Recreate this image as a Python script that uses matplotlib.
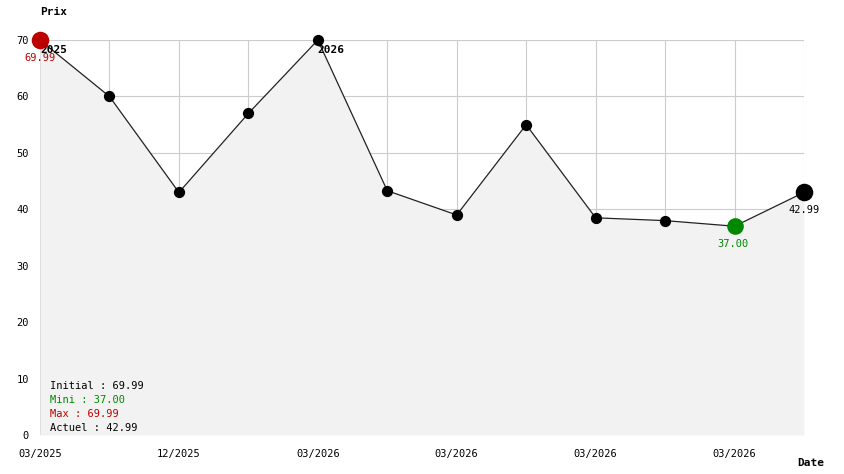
import numpy as np
import matplotlib
matplotlib.use('Agg')
import matplotlib.pyplot as plt

# ── Data ──────────────────────────────────────────────────────────────────────
prices = [69.99, 59.99, 42.99, 56.99, 69.99, 43.29, 38.99, 54.99, 38.49, 37.99, 37.00, 42.99]
tick_labels = ['03/2025', '12/2025', '03/2026', '03/2026', '03/2026', '03/2026']
year_marks = {0: '2025', 4: '2026'}

GRID = '#cccccc'
FILL = '#f2f2f2'
RED = '#bb0000'
GREEN = '#008800'
FONT = 'DejaVu Sans Mono'

plt.rcParams['font.family'] = FONT

fig = plt.figure(figsize=(8.44, 4.74), dpi=100)
ax = fig.add_axes([40 / 844, 39 / 474, 764 / 844, 395 / 474])

x = np.arange(len(prices))
ax.fill_between(x, prices, 0, color=FILL, lw=0, zorder=1)
ax.plot(x, prices, color='#222222', lw=0.9, zorder=3)
ax.scatter(x[1:-1], prices[1:-1], s=50, color='black', zorder=4, clip_on=False)

i_min = int(np.argmin(prices))
i_max = 0
ax.scatter([i_max], [prices[i_max]], s=135, color=RED, zorder=5, clip_on=False)
ax.scatter([i_min], [prices[i_min]], s=120, color=GREEN, zorder=5, clip_on=False)
ax.scatter([x[-1]], [prices[-1]], s=135, color='black', zorder=5, clip_on=False)

ax.annotate(f'{prices[i_max]:.2f}', (i_max, prices[i_max]), xytext=(0, -13),
            textcoords='offset points', ha='center', va='center', color=RED, fontsize=7.5, zorder=6)
ax.annotate(f'{prices[i_min]:.2f}', (i_min, prices[i_min]), xytext=(-1, -13),
            textcoords='offset points', ha='center', va='center', color=GREEN, fontsize=7.5, zorder=6)
ax.annotate(f'{prices[-1]:.2f}', (x[-1], prices[-1]), xytext=(0, -13),
            textcoords='offset points', ha='center', va='center', color='black', fontsize=7.5, zorder=6)

for i, yr in year_marks.items():
    ax.annotate(yr, (i, 70), xytext=(0, -7), textcoords='offset points',
                ha='left', va='center', fontsize=8, fontweight='bold', zorder=4)

ax.set_xlim(0, len(prices) - 1)
ax.set_ylim(0, 70)
ax.set_xticks(x, minor=True)
ax.set_xticks(x[::2][:len(tick_labels)])
ax.set_xticklabels(tick_labels)
ax.set_yticks(np.arange(0, 71, 10))
ax.tick_params(which='both', length=0, labelsize=7.5)
ax.tick_params(axis='x', pad=10)
ax.tick_params(axis='y', pad=8)
ax.grid(True, which='both', color=GRID, lw=0.8, zorder=0)
ax.set_axisbelow(True)
for s in ax.spines.values():
    s.set_visible(False)

fig.text(40 / 844, 1 - 12 / 474, 'Prix', ha='left', va='center', fontsize=8, fontweight='bold')
fig.text(797 / 844, 1 - 463 / 474, 'Date', ha='left', va='center', fontsize=8, fontweight='bold')

legend = [(f'Initial : {prices[0]:.2f}', 'black'),
          (f'Mini : {min(prices):.2f}', GREEN),
          (f'Max : {max(prices):.2f}', RED),
          (f'Actuel : {prices[-1]:.2f}', 'black')]
for k, (txt, col) in enumerate(legend):
    fig.text(50 / 844, 1 - (386 + 14 * k) / 474, txt, ha='left', va='center',
             fontsize=7.5, color=col)

fig.savefig('out.png', dpi=100)
